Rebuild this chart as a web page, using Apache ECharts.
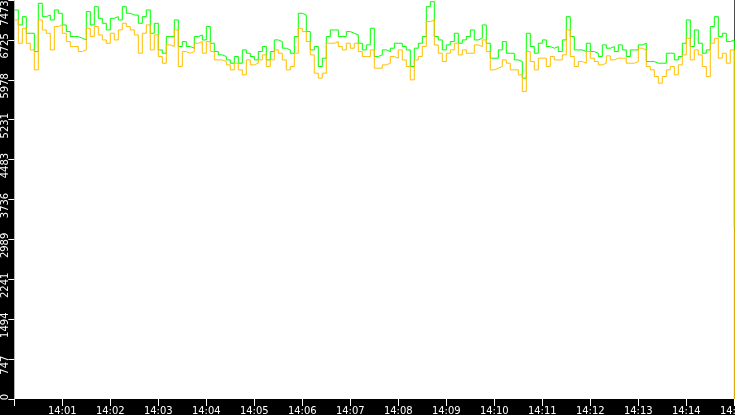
<!DOCTYPE html>
<html>
<head>
<meta charset="utf-8">
<script src="https://cdn.jsdelivr.net/npm/echarts@6/dist/echarts.min.js"></script>
<style>
html,body{margin:0;padding:0;background:#000;}
#c{width:735px;height:415px;}
</style>
</head>
<body>
<div id="c"></div>
<script>
// seconds after 14:00:00 between samples
const sampleSec = 5;
const greenValues = [
7286,7006,7161,6850,6850,6507,7411,7161,7192,7099,
7286,7224,7006,6881,6788,6788,6757,6725,7255,7006,
7348,7130,7037,6912,7130,7161,7099,7348,7224,7192,
7192,7037,7161,7286,6850,7037,6538,6476,6788,6788,
7099,6601,6694,6601,6570,6788,6819,6725,6975,6663,
6507,6445,6414,6351,6289,6414,6289,6538,6476,6414,
6351,6507,6601,6351,6507,6725,6694,6570,6538,6476,
6788,7224,7192,6881,6538,6601,6227,6383,6788,6912,
6912,6788,6788,6881,6850,6819,6663,6538,6632,6944,
6414,6445,6538,6507,6570,6663,6663,6601,6538,6227,
6570,6663,6788,7348,7442,6788,6725,6538,6632,6694,
6850,6663,6725,6788,6912,6725,6757,7006,6663,6383,
6383,6538,6694,6476,6476,6351,6320,6009,6850,6601,
6476,6663,6725,6601,6570,6601,6507,6725,7161,6788,
6538,6538,6507,6663,6507,6476,6414,6632,6570,6601,
6507,6632,6538,6414,6538,6538,6632,6663,6320,6320,
6289,6289,6289,6476,6476,6351,6414,6663,7099,6601,
6912,6663,6476,6538,6975,7161,6788,6850,6694,6725,
3230
];
const orangeValues = [
7099,6663,6943,6663,6538,6164,7099,6912,6850,6538,
6975,7006,6850,6694,6601,6601,6507,6538,6943,6788,
6975,6819,6725,6663,6850,6725,6912,7037,6975,6912,
6819,6476,6850,7006,6538,6819,6414,6289,6632,6601,
6912,6227,6507,6476,6507,6663,6694,6476,6694,6507,
6351,6351,6320,6258,6164,6289,6164,6071,6351,6258,
6289,6351,6445,6227,6351,6538,6476,6351,6164,6227,
6476,6943,6881,6694,6445,6102,6009,6102,6663,6663,
6694,6601,6538,6663,6570,6663,6507,6414,6414,6538,
6196,6196,6258,6289,6414,6383,6538,6351,6227,5977,
6351,6414,6601,7068,7099,6632,6476,6320,6476,6538,
6663,6445,6538,6476,6476,6632,6601,6725,6507,6164,
6196,6227,6351,6289,6164,6164,6071,5760,6507,6320,
6164,6383,6383,6227,6414,6351,6351,6445,6912,6414,
6227,6320,6289,6507,6383,6320,6258,6289,6426,6351,
6383,6383,6383,6289,6289,6320,6570,6538,6227,6164,
6040,5915,6040,6164,6227,6071,6258,6445,6756,6351,
6538,6445,6227,6040,6663,6756,6383,6476,6289,6538,
0
];
const yMax = 7473;
const yStep = 747.3;
const yTickLabels = ['0','747','1494','2241','2989','3736','4483','5231','5978','6725','7473'];
const xStepSec = 60;
const xMaxSec = 900;
const xLabelSeconds = [60,120,180,240,300,360,420,480,540,600,660,720,780,840,900];
const xHour = '14';

const toPairs = arr => arr.map((v, i) => [i * sampleSec, v]);

const chart = echarts.init(document.getElementById('c'), null, {renderer: 'canvas'});
const font = 'DejaVu Sans';
const fs = 10;
chart.setOption({
  animation: false,
  backgroundColor: '#000',
  grid: {
    left: 14.3, right: 0.7, top: 0, bottom: 16,
    show: true, backgroundColor: '#fff', borderWidth: 0,
    containLabel: false, outerBoundsMode: 'none'
  },
  xAxis: {
    type: 'value', min: 0, max: xMaxSec, interval: xStepSec,
    axisLine: {show: false},
    splitLine: {show: false},
    axisTick: {show: true, length: 7, lineStyle: {color: '#fff', width: 1}},
    axisLabel: {
      color: '#fff', fontFamily: font, fontSize: fs, margin: 7,
      customValues: xLabelSeconds,
      formatter: v => xHour + ':' + String(Math.round(v / 60)).padStart(2, '0')
    }
  },
  yAxis: {
    type: 'value', min: 0, max: yMax, interval: yStep,
    axisLine: {show: false},
    splitLine: {show: false},
    axisTick: {show: true, length: 6, lineStyle: {color: '#fff', width: 1}},
    axisLabel: {
      color: '#fff', fontFamily: font, fontSize: fs, rotate: 90, margin: 4,
      formatter: v => {
        const i = Math.round(v / yStep);
        const s = yTickLabels[i];
        if (i === yTickLabels.length - 1) return '{t|' + s + '}';
        if (i === 0) return '{b|' + s + '}';
        return '{n|' + s + '}';
      },
      rich: {
        n: {color: '#fff', fontFamily: font, fontSize: fs, padding: [0, 12, 0, 0]},
        t: {color: '#fff', fontFamily: font, fontSize: fs, padding: [0, 26, 0, 0]},
        b: {color: '#fff', fontFamily: font, fontSize: fs, padding: [0, 0, 0, 4]}
      }
    }
  },
  series: [
    {
      name: 'green', type: 'line', step: 'end', showSymbol: false,
      data: toPairs(greenValues),
      lineStyle: {color: '#00ff00', width: 1},
      itemStyle: {color: '#00ff00'}
    },
    {
      name: 'orange', type: 'line', step: 'end', showSymbol: false,
      data: toPairs(orangeValues),
      lineStyle: {color: '#ffbf00', width: 1},
      itemStyle: {color: '#ffbf00'}
    }
  ]
});
</script>
</body>
</html>
